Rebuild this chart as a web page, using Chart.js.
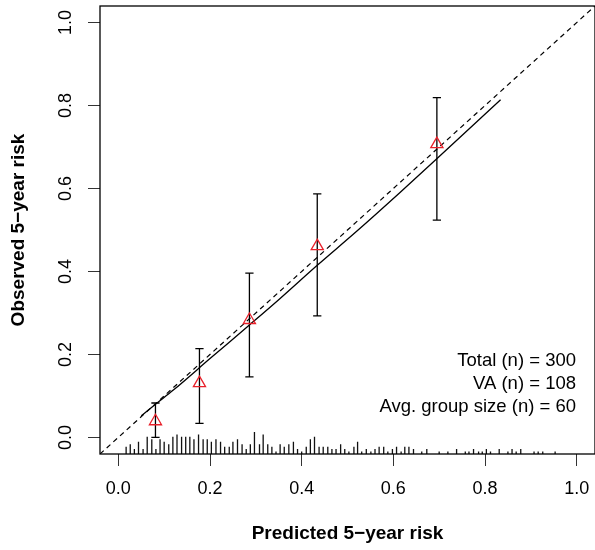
<!DOCTYPE html>
<html>
<head>
<meta charset="utf-8">
<script src="https://cdn.jsdelivr.net/npm/chart.js@4.4.1/dist/chart.umd.min.js"></script>
<style>
  html, body { margin: 0; padding: 0; background: #fff; }
  #wrap { width: 595px; height: 550px; }
</style>
</head>
<body>
<div id="wrap"><canvas id="calChart" width="595" height="550"></canvas></div>
<script>
// risk groups: mean predicted vs observed 5-year risk, with CI
const groupPred = [0.081, 0.177, 0.286, 0.434, 0.695];
const groupObs = [0.039, 0.131, 0.283, 0.461, 0.707];
const groupLower = [0.000, 0.034, 0.146, 0.293, 0.524];
const groupUpper = [0.083, 0.214, 0.396, 0.587, 0.819];

// smoothed calibration curve
const curveX = [0.050, 0.081, 0.120, 0.200, 0.286, 0.353, 0.434, 0.520, 0.614, 0.696, 0.834];
const curveY = [0.052, 0.080, 0.114, 0.190, 0.271, 0.335, 0.415, 0.497, 0.590, 0.673, 0.814];

// distribution of predicted risks (spike histogram along the bottom)
const spikeX = [0.017, 0.026, 0.035, 0.044, 0.054, 0.063, 0.073, 0.082, 0.091, 0.100,
  0.110, 0.119, 0.128, 0.138, 0.147, 0.156, 0.165, 0.175, 0.185, 0.194,
  0.203, 0.213, 0.223, 0.232, 0.242, 0.250, 0.260, 0.270, 0.279, 0.288,
  0.297, 0.308, 0.316, 0.326, 0.335, 0.344, 0.353, 0.362, 0.372, 0.382,
  0.391, 0.400, 0.410, 0.419, 0.428, 0.438, 0.447, 0.457, 0.466, 0.475,
  0.485, 0.494, 0.503, 0.514, 0.522, 0.531, 0.541, 0.551, 0.560, 0.569,
  0.579, 0.588, 0.598, 0.607, 0.617, 0.625, 0.634, 0.644, 0.662, 0.673,
  0.700, 0.719, 0.738, 0.757, 0.765, 0.775, 0.786, 0.794, 0.803, 0.812,
  0.831, 0.850, 0.859, 0.868, 0.878, 0.907, 0.916, 0.926, 0.953];
const spikeCount = [3, 4, 2, 5, 2, 7, 6, 2, 6, 5,
  4, 7, 8, 7, 7, 7, 6, 8, 6, 6,
  5, 6, 5, 3, 3, 5, 6, 4, 2, 4,
  9, 4, 8, 4, 3, 1, 4, 3, 4, 5,
  2, 1, 3, 6, 7, 3, 3, 3, 2, 2,
  4, 2, 1, 3, 5, 1, 2, 1, 2, 3,
  3, 1, 2, 3, 1, 3, 3, 2, 1, 2,
  1, 1, 2, 1, 1, 2, 1, 1, 2, 1,
  2, 1, 2, 1, 2, 1, 1, 1, 1];

const tickValues = [0, 0.2, 0.4, 0.6, 0.8, 1.0];
const axisMin = -0.04;
const axisMax = 1.04;
const infoLines = ['Total (n) = 300', 'VA (n) = 108', 'Avg. group size (n) = 60'];

const spikeUnit = 0.0059;
const capHalf = 0.009;
const fontFamily = '"Liberation Sans", Arial, Helvetica, sans-serif';

// build segment lists, null y breaks the line
const spikeData = [];
spikeX.forEach((x, i) => {
    spikeData.push({ x: x, y: axisMin });
    spikeData.push({ x: x, y: axisMin + spikeCount[i] * spikeUnit });
    spikeData.push({ x: x, y: null });
});

const errData = [];
groupPred.forEach((x, i) => {
    errData.push({ x: x, y: groupLower[i] }, { x: x, y: groupUpper[i] }, { x: x, y: null });
    errData.push({ x: x - capHalf, y: groupUpper[i] }, { x: x + capHalf, y: groupUpper[i] }, { x: x, y: null });
    errData.push({ x: x - capHalf, y: groupLower[i] }, { x: x + capHalf, y: groupLower[i] }, { x: x, y: null });
});

const frame = {
    id: 'frame',
    afterDatasetsDraw(chart) {
        const { ctx, chartArea: a } = chart;
        ctx.save();
        ctx.strokeStyle = '#000';
        ctx.lineWidth = 1.3;
        ctx.strokeRect(a.left, a.top, a.right - a.left, a.bottom - a.top);
        ctx.font = '18.5px ' + fontFamily;
        ctx.fillStyle = '#000';
        ctx.textAlign = 'right';
        ctx.textBaseline = 'middle';
        infoLines.forEach((t, i) => ctx.fillText(t, 576, 361 + i * 23));
        ctx.restore();
    }
};

function axisOpts(title, isY) {
    return {
        type: 'linear',
        min: axisMin,
        max: axisMax,
        afterBuildTicks: (s) => { s.ticks = tickValues.map(v => ({ value: v })); },
        afterFit: (s) => {
            if (isY) s.width = 100; else s.height = 96;
            // no extra room for end labels, keep the plot box fixed
            s.paddingLeft = 0; s.paddingRight = 0;
            s.paddingTop = 0; s.paddingBottom = 0;
        },
        border: { display: false },
        grid: { drawOnChartArea: false, drawTicks: true, tickLength: 12, color: '#333', lineWidth: 1 },
        ticks: {
            color: '#000',
            font: { family: fontFamily, size: 18 },
            padding: isY ? 9 : 12,
            minRotation: isY ? 90 : 0,
            maxRotation: isY ? 90 : 0,
            crossAlign: isY ? 'center' : 'near',
            callback: (v) => Number(v).toFixed(1)
        },
        title: {
            display: true,
            text: title,
            color: '#000',
            font: { family: fontFamily, size: 19, weight: 'bold' },
            padding: isY ? { top: 7, bottom: 0 } : { top: 0, bottom: 5 }
        }
    };
}

new Chart(document.getElementById('calChart'), {
    type: 'line',
    data: {
        datasets: [
            {
                label: 'groups',
                data: groupPred.map((x, i) => ({ x: x, y: groupObs[i] })),
                showLine: false,
                pointStyle: 'triangle',
                pointRadius: 7,
                pointBorderColor: '#e8202a',
                pointBackgroundColor: 'rgba(0,0,0,0)',
                pointBorderWidth: 1.3,
                order: 1
            },
            {
                label: 'error bars',
                data: errData,
                borderColor: '#000',
                borderWidth: 1.3,
                pointRadius: 0,
                spanGaps: false,
                order: 2
            },
            {
                label: 'calibration',
                data: curveX.map((x, i) => ({ x: x, y: curveY[i] })),
                borderColor: '#000',
                borderWidth: 1.3,
                pointRadius: 0,
                cubicInterpolationMode: 'monotone',
                order: 3
            },
            {
                label: 'ideal',
                data: [{ x: axisMin, y: axisMin }, { x: axisMax, y: axisMax }],
                borderColor: '#000',
                borderWidth: 1.2,
                borderDash: [5, 4],
                pointRadius: 0,
                order: 4
            },
            {
                label: 'distribution',
                data: spikeData,
                borderColor: '#111',
                borderWidth: 1.3,
                pointRadius: 0,
                spanGaps: false,
                order: 5
            }
        ]
    },
    options: {
        responsive: false,
        animation: false,
        devicePixelRatio: 1,
        layout: { autoPadding: false, padding: { top: 6, right: -1, left: 0, bottom: 0 } },
        plugins: {
            legend: { display: false },
            tooltip: { enabled: false }
        },
        scales: {
            x: axisOpts('Predicted 5\u2212year risk', false),
            y: axisOpts('Observed 5\u2212year risk', true)
        }
    },
    plugins: [frame]
});
</script>
</body>
</html>
